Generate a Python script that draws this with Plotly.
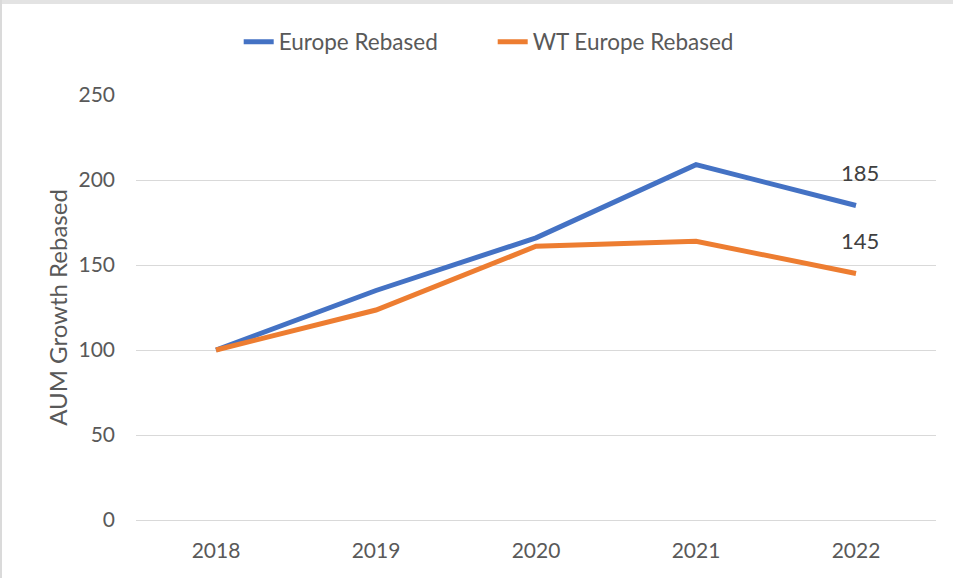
import plotly.graph_objects as go

years = ["2018", "2019", "2020", "2021", "2022"]
europe = [100, 135, 166, 209, 185]
wt_europe = [100, 123.5, 161, 164, 145]
series_names = ["Europe Rebased", "WT Europe Rebased"]
colors = ["#4472C4", "#ED7D31"]
y_ticks = [0, 50, 100, 150, 200, 250]

font_family = "Lato, 'Liberation Sans', Arial, sans-serif"
idx = list(range(len(years)))

fig = go.Figure()
for name, vals, col in zip(series_names, [europe, wt_europe], colors):
    fig.add_trace(go.Scatter(
        x=idx, y=vals, name=name, mode="lines",
        line=dict(color=col, width=5),
    ))

# data labels on the last point
for vals in [europe, wt_europe]:
    fig.add_annotation(
        x=idx[-1], y=vals[-1], text=str(round(vals[-1])),
        showarrow=False, yanchor="bottom", yshift=18, xshift=4,
        font=dict(size=22, color="#404040", family=font_family),
    )

W, H = 953, 578
L, R, T, B = 136, 17, 95, 58

fig.update_layout(
    width=W, height=H,
    margin=dict(l=L, r=R, t=T, b=B, autoexpand=False),
    paper_bgcolor="white", plot_bgcolor="white",
    font=dict(family=font_family, color="#595959", size=21),
    showlegend=True,
    legend=dict(
        orientation="h", xref="container", yref="container",
        x=0.517, xanchor="center", y=1 - 42 / H, yanchor="middle",
        font=dict(size=22.5, color="#595959"),
        entrywidth=209,
        traceorder="normal", bgcolor="rgba(0,0,0,0)",
    ),
    xaxis=dict(
        range=[-0.5, len(years) - 0.5], tickvals=idx, ticktext=years,
        showgrid=False, zeroline=False,
        showline=False, ticks="", tickfont=dict(size=21, color="#595959"),
        ticklabelstandoff=16,
    ),
    yaxis=dict(
        range=[0, 250], tickvals=y_ticks, showgrid=True, gridcolor="#D9D9D9",
        gridwidth=1, zeroline=True, zerolinecolor="#D9D9D9", zerolinewidth=1,
        showline=False, ticks="", tickfont=dict(size=21, color="#595959"),
        ticklabelstandoff=20,
        title=dict(text="AUM Growth Rebased", font=dict(size=24, color="#595959"),
                   standoff=4),
    ),
)

# outer frame border (gray strip at top and left as in the screenshot)
h_plot = H - T - B
w_plot = W - L - R
fig.add_shape(type="rect", xref="paper", yref="paper",
              x0=-L / w_plot, x1=(W - L) / w_plot,
              y0=(h_plot + T - 4) / h_plot, y1=(h_plot + T) / h_plot,
              fillcolor="#E3E3E3", line=dict(width=0), layer="below")
fig.add_shape(type="rect", xref="paper", yref="paper",
              x0=-L / w_plot, x1=(2 - L) / w_plot,
              y0=-B / h_plot, y1=(h_plot + T) / h_plot,
              fillcolor="#DADADA", line=dict(width=0), layer="below")

fig.write_html("out.html", config={"displayModeBar": False},
               post_script="document.body.style.margin='0px';")
